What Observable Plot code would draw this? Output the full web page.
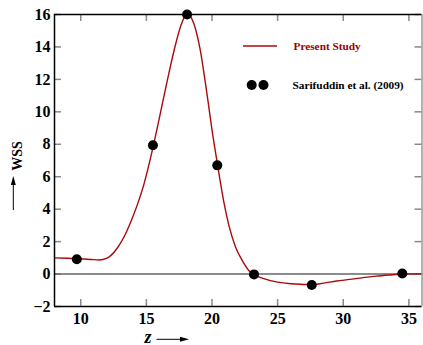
<!DOCTYPE html>
<html>
<head>
<meta charset="utf-8">
<script src="https://cdn.jsdelivr.net/npm/d3@7"></script>
<script src="https://cdn.jsdelivr.net/npm/@observablehq/plot@0.6"></script>
<style>
  html, body { margin: 0; padding: 0; background: #fff; }
  svg text { font-family: "Liberation Serif", serif; }
</style>
</head>
<body>
<div id="chart"></div>
<script>
// ---- data ----
const xTicks = [10, 15, 20, 25, 30, 35];
const yTicks = [-2, 0, 2, 4, 6, 8, 10, 12, 14, 16];

// Present Study (curve)
const curveZ   = [8.0, 9.0, 10.0, 10.8, 11.4, 12.0, 12.3, 12.8, 13.3, 13.8, 14.3, 14.8, 15.3, 15.8, 16.1, 16.6, 17.1, 17.6, 18.1, 18.6, 19.1, 19.6, 20.1, 20.45, 20.65, 20.9, 21.3, 21.8, 22.3, 22.8, 23.25, 24.0, 25.0, 26.0, 27.0, 27.6, 28.5, 29.5, 30.5, 31.5, 32.5, 33.5, 34.5, 35.5, 36.0];
const curveWSS = [1.0, 0.97, 0.94, 0.9, 0.87, 0.98, 1.15, 1.62, 2.3, 3.2, 4.25, 5.5, 7.1, 8.9, 10.05, 11.95, 13.75, 15.25, 16.05, 15.48, 13.83, 11.2, 8.35, 6.6, 5.6, 4.45, 2.95, 1.66, 0.84, 0.22, -0.05, -0.3, -0.5, -0.6, -0.64, -0.66, -0.56, -0.43, -0.33, -0.22, -0.13, -0.06, 0.0, 0.01, 0.01];

// Sarifuddin et al. (2009) (points)
const refZ   = [9.7, 15.5, 18.1, 20.4, 23.2, 27.6, 34.5];
const refWSS = [0.91, 7.94, 16.0, 6.7, -0.02, -0.68, 0.03];

const seriesNames = ["Present Study", "Sarifuddin et al. (2009)"];
const axisTitles = { x: "z", y: "WSS" };

const curve = curveZ.map((z, i) => ({ z, wss: curveWSS[i] }));
const refs = refZ.map((z, i) => ({ z, wss: refWSS[i] }));

const W = 423, H = 345;
const mL = 54, mR = 1.5, mT = 14, mB = 39;
const fw = W - mL - mR, fh = H - mT - mB;
const red = "#aa0a0a";
const font = "Liberation Serif, serif";

const svg = Plot.plot({
  width: W,
  height: H,
  marginLeft: mL,
  marginRight: mR,
  marginTop: mT,
  marginBottom: mB,
  style: { fontFamily: font, background: "#fff", color: "#000" },
  x: { domain: [8, 36] },
  y: { domain: [-2, 16] },
  marks: [
    // inward ticks on all four sides
    Plot.tickX(xTicks, { x: d => d, insetTop: fh - 7, stroke: "#888", strokeWidth: 1.5 }),
    Plot.tickX(xTicks, { x: d => d, insetBottom: fh - 7, stroke: "#888", strokeWidth: 1.5 }),
    Plot.tickY(yTicks, { y: d => d, insetRight: fw - 7, stroke: "#888", strokeWidth: 1.5 }),
    Plot.tickY(yTicks, { y: d => d, insetLeft: fw - 7, stroke: "#888", strokeWidth: 1.5 }),
    Plot.axisX({ ticks: xTicks, tickSize: 0, tickPadding: 6, fontSize: 16, fontWeight: "bold", fontFamily: font, label: null }),
    Plot.axisY({ ticks: yTicks, tickSize: 0, tickPadding: 4, fontSize: 16, fontWeight: "bold", fontFamily: font, label: null }),
    Plot.ruleY([0], { stroke: "#666", strokeWidth: 1.5 }),
    Plot.line(curve, { x: "z", y: "wss", stroke: red, strokeWidth: 1.4, curve: "monotone-x" }),
    Plot.dot(refs, { x: "z", y: "wss", r: 5, fill: "#000", stroke: "none" }),
    // frame
    Plot.ruleY([16], { stroke: "#000", strokeWidth: 1.5 }),
    Plot.ruleY([-2], { stroke: "#000", strokeWidth: 1.5 }),
    Plot.ruleX([8], { stroke: "#000", strokeWidth: 1.5 }),
    Plot.ruleX([36], { stroke: "#999", strokeWidth: 1.5 })
  ]
});

const s = d3.select(svg);

// legend
const lg = s.append("g").attr("text-anchor", "start");
lg.append("line").attr("x1", 243).attr("x2", 277).attr("y1", 46).attr("y2", 46)
  .attr("stroke", red).attr("stroke-width", 1.4);
lg.append("text").attr("x", 293.5).attr("y", 49.5).attr("text-anchor", "start").text(seriesNames[0])
  .attr("fill", "#990000").attr("font-size", 11.3).attr("font-weight", "bold").attr("font-family", font);
lg.append("circle").attr("cx", 251.7).attr("cy", 85).attr("r", 5).attr("fill", "#000");
lg.append("circle").attr("cx", 263.5).attr("cy", 85).attr("r", 5).attr("fill", "#000");
lg.append("text").attr("x", 292.5).attr("y", 88.5).attr("text-anchor", "start").text(seriesNames[1])
  .attr("fill", "#000").attr("font-size", 11.3).attr("font-weight", "bold").attr("font-family", font);

// y axis title with arrow
s.append("text").attr("transform", "translate(21.5,156) rotate(-90)")
  .attr("text-anchor", "middle").text(axisTitles.y)
  .attr("font-size", 14).attr("font-weight", "bold").attr("font-family", font).attr("fill", "#000");
s.append("line").attr("x1", 13.3).attr("x2", 13.3).attr("y1", 210).attr("y2", 182)
  .attr("stroke", "#000").attr("stroke-width", 1);
s.append("path").attr("d", "M13.3,176 L10.8,185 L15.8,185 Z").attr("fill", "#000");

// x axis title with arrow
s.append("text").attr("x", 144.5).attr("y", 342.5).attr("text-anchor", "start").text(axisTitles.x)
  .attr("font-size", 18).attr("font-weight", "bold").attr("font-style", "italic")
  .attr("font-family", font).attr("fill", "#000");
s.append("line").attr("x1", 156.5).attr("x2", 182).attr("y1", 339.3).attr("y2", 339.3)
  .attr("stroke", "#000").attr("stroke-width", 1);
s.append("path").attr("d", "M189,339.3 L180,336.8 L180,341.8 Z").attr("fill", "#000");

document.getElementById("chart").appendChild(svg);
</script>
</body>
</html>
